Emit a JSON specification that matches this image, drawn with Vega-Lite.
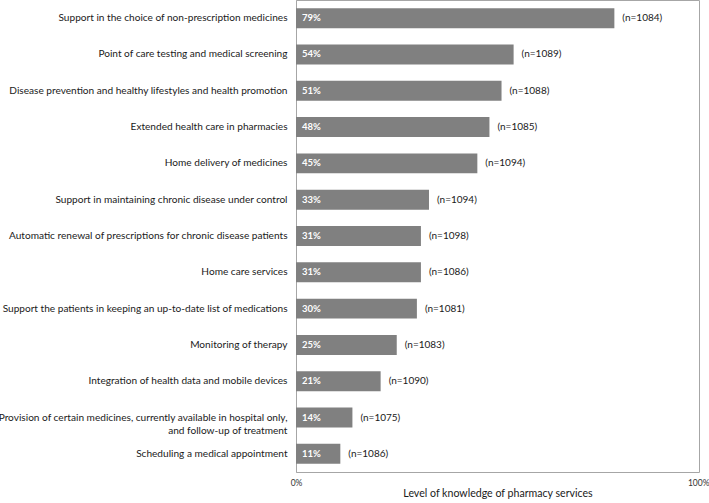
{
  "$schema": "https://vega.github.io/schema/vega-lite/v6.json",
  "autosize": "none",
  "width": 403,
  "height": 472,
  "padding": {"left": 296, "top": 0, "right": 10, "bottom": 31},
  "background": "white",
  "config": {
    "font": "Lato",
    "view": {"stroke": "#a6a6a6", "strokeWidth": 1}
  },
  "data": {
    "values": [
      {"service": "Support in the choice of non-prescription medicines", "pct": 79, "n": 1084},
      {"service": "Point of care testing and medical screening", "pct": 54, "n": 1089},
      {"service": "Disease prevention and healthy lifestyles and health promotion", "pct": 51, "n": 1088},
      {"service": "Extended health care in pharmacies", "pct": 48, "n": 1085},
      {"service": "Home delivery of medicines", "pct": 45, "n": 1094},
      {"service": "Support in maintaining chronic disease under control", "pct": 33, "n": 1094},
      {"service": "Automatic renewal of prescriptions for chronic disease patients", "pct": 31, "n": 1098},
      {"service": "Home care services", "pct": 31, "n": 1086},
      {"service": "Support the patients in keeping an up-to-date list of medications", "pct": 30, "n": 1081},
      {"service": "Monitoring of therapy", "pct": 25, "n": 1083},
      {"service": "Integration of health data and mobile devices", "pct": 21, "n": 1090},
      {"service": "Provision of certain medicines, currently available in hospital only,|and follow-up of treatment", "pct": 14, "n": 1075},
      {"service": "Scheduling a medical appointment", "pct": 11, "n": 1086}
    ]
  },
  "encoding": {
    "y": {
      "field": "service",
      "type": "nominal",
      "sort": null,
      "scale": {"paddingInner": 0.45, "paddingOuter": 0.225},
      "axis": {
        "title": null,
        "ticks": false,
        "domainColor": "#a6a6a6",
        "labelExpr": "split(datum.value, '|')",
        "labelLimit": 400,
        "labelFontSize": 10.1,
        "labelColor": "#1a1a1a",
        "labelPadding": 9,
        "labelLineHeight": 13
      }
    }
  },
  "layer": [
    {
      "mark": {"type": "bar", "color": "#808080"},
      "encoding": {
        "x": {
          "field": "pct",
          "type": "quantitative",
          "scale": {"domain": [0, 100], "nice": false},
          "axis": {
            "values": [0, 100],
            "labelExpr": "datum.value + '%'",
            "grid": false,
            "ticks": false,
            "domain": false,
            "labelFontSize": 8.5,
            "labelColor": "#333333",
            "labelPadding": 6,
            "labelFlush": false,
            "labelAlign": {"condition": {"test": "datum.value == 100", "value": "right"}, "value": "center"},
            "labelOffset": {"condition": {"test": "datum.value == 100", "value": 10}, "value": 0},
            "title": "Level of knowledge of pharmacy services",
            "titleFontSize": 10.6,
            "titleFontWeight": "normal",
            "titleColor": "#1a1a1a",
            "titlePadding": 2
          }
        }
      }
    },
    {
      "mark": {"type": "text", "align": "left", "dx": 6, "color": "white", "fontWeight": "bold", "fontSize": 9.5},
      "transform": [{"calculate": "datum.pct + '%'", "as": "plab"}],
      "encoding": {
        "x": {"datum": 0, "type": "quantitative"},
        "text": {"field": "plab", "type": "nominal"}
      }
    },
    {
      "mark": {"type": "text", "align": "left", "dx": 8, "color": "#1a1a1a", "fontSize": 10},
      "transform": [{"calculate": "'(n=' + datum.n + ')'", "as": "nlab"}],
      "encoding": {
        "x": {"field": "pct", "type": "quantitative"},
        "text": {"field": "nlab", "type": "nominal"}
      }
    }
  ]
}
